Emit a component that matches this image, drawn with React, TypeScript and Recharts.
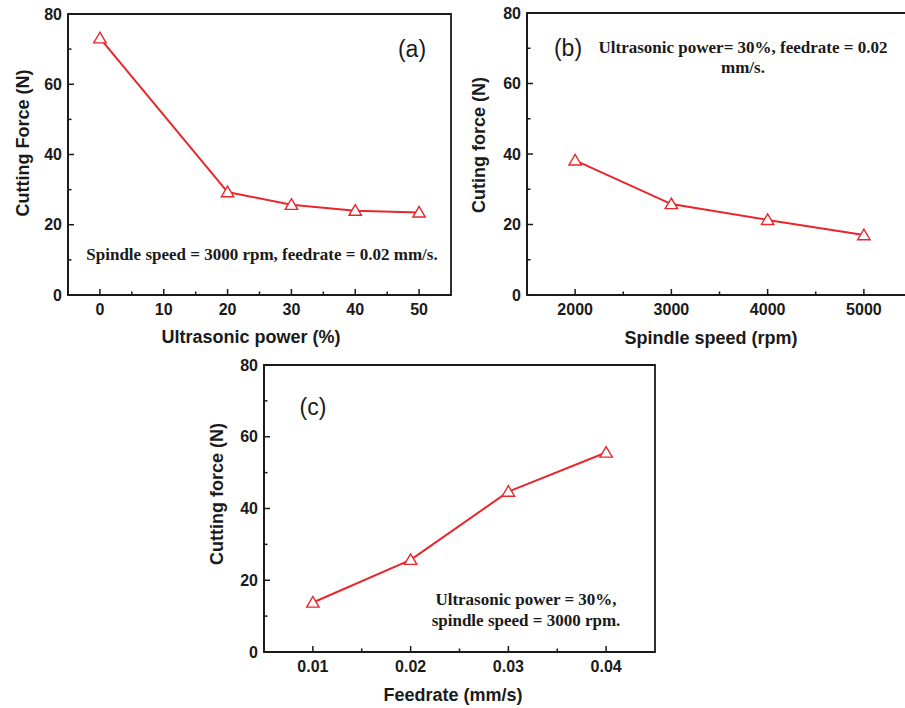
import React from "react";
import { Line, LineChart, ReferenceArea, XAxis, YAxis } from "recharts";

// panel (a): force vs ultrasonic power
const ultrasonicPower = [0, 20, 30, 40, 50];
const forceVsPower = [73.1, 29.3, 25.7, 24.0, 23.5];
// panel (b): force vs spindle speed
const spindleSpeed = [2000, 3000, 4000, 5000];
const forceVsSpeed = [38.2, 25.8, 21.3, 17.0];
// panel (c): force vs feedrate
const feedrate = [0.01, 0.02, 0.03, 0.04];
const forceVsFeed = [13.8, 25.7, 44.7, 55.6];

const forceTicks = [0, 10, 20, 30, 40, 50, 60, 70, 80];
const forceTickLabels = ["0", "", "20", "", "40", "", "60", "", "80"];
const powerTicks = [0, 5, 10, 15, 20, 25, 30, 35, 40, 45, 50];
const powerTickLabels = ["0", "", "10", "", "20", "", "30", "", "40", "", "50"];
const speedTicks = [2000, 2500, 3000, 3500, 4000, 4500, 5000];
const speedTickLabels = ["2000", "", "3000", "", "4000", "", "5000"];
const feedTicks = [0.01, 0.015, 0.02, 0.025, 0.03, 0.035, 0.04];
const feedTickLabels = ["0.01", "", "0.02", "", "0.03", "", "0.04"];

const INK = "#1a1a1a";
const RED = "#e8262b";
const SANS = "'Liberation Sans', Arial, sans-serif";
const SERIF = "'Liberation Serif', 'Times New Roman', serif";
const X_GAP = 9;
const Y_GAP = 6;

const toRows = (xs: number[], ys: number[]) => xs.map((x, i) => ({ x, force: ys[i] }));

function XTick(props: any) {
  const { x, y, index, labels } = props;
  const label = labels[index];
  const axisY = y - X_GAP;
  return (
    <g>
      <line x1={x} y1={axisY} x2={x} y2={axisY - (label ? 6 : 3.5)} stroke={INK} strokeWidth={1.5} />
      {label ? (
        <text x={x} y={y} dy="0.71em" textAnchor="middle" fontFamily={SANS} fontWeight="bold" fontSize={16} fill={INK}>
          {label}
        </text>
      ) : null}
    </g>
  );
}

function YTick(props: any) {
  const { x, y, index, labels } = props;
  const label = labels[index];
  const axisX = x + Y_GAP;
  return (
    <g>
      <line x1={axisX} y1={y} x2={axisX + (label ? 6 : 3.5)} y2={y} stroke={INK} strokeWidth={1.5} />
      {label ? (
        <text x={x} y={y} dy="0.355em" textAnchor="end" fontFamily={SANS} fontWeight="bold" fontSize={16} fill={INK}>
          {label}
        </text>
      ) : null}
    </g>
  );
}

function Triangle(props: any) {
  const { cx, cy } = props;
  if (cx == null || cy == null) return <g />;
  return (
    <polygon
      points={`${cx},${cy - 6} ${cx - 6.2},${cy + 4.6} ${cx + 6.2},${cy + 4.6}`}
      fill="#fff"
      stroke={RED}
      strokeWidth={1.4}
    />
  );
}

type PanelProps = {
  left: number;
  top: number;
  width: number;
  height: number;
  marginTop: number;
  marginRight: number;
  yAxisWidth: number;
  xAxisHeight: number;
  rows: { x: number; force: number }[];
  xDomain: [number, number];
  xTicks: number[];
  xLabels: string[];
};

function Panel(p: PanelProps) {
  const frame = { stroke: INK, strokeWidth: 1.8 };
  return (
    <div style={{ position: "absolute", left: p.left, top: p.top }}>
      <LineChart
        width={p.width}
        height={p.height}
        data={p.rows}
        margin={{ top: p.marginTop, right: p.marginRight, bottom: 0, left: 0 }}
      >
        <XAxis
          dataKey="x"
          type="number"
          domain={p.xDomain}
          ticks={p.xTicks}
          interval={0}
          height={p.xAxisHeight}
          tickSize={0}
          tickMargin={X_GAP}
          axisLine={frame}
          tick={(t: any) => <XTick {...t} labels={p.xLabels} />}
        />
        <YAxis
          type="number"
          domain={[0, 80]}
          ticks={forceTicks}
          interval={0}
          width={p.yAxisWidth}
          tickSize={0}
          tickMargin={Y_GAP}
          axisLine={frame}
          tick={(t: any) => <YTick {...t} labels={forceTickLabels} />}
        />
        <ReferenceArea
          x1={p.xDomain[0]}
          x2={p.xDomain[1]}
          y1={0}
          y2={80}
          fill="none"
          fillOpacity={0}
          stroke={INK}
          strokeWidth={1.8}
          strokeOpacity={1}
        />
        <Line
          type="linear"
          dataKey="force"
          stroke={RED}
          strokeWidth={2}
          dot={(d: any) => <Triangle key={d.index} cx={d.cx} cy={d.cy} />}
          activeDot={false}
          isAnimationActive={false}
        />
      </LineChart>
    </div>
  );
}

function Label(props: { x: number; y: number; children: React.ReactNode; rotate?: boolean; serif?: boolean; size?: number; weight?: string; lineHeight?: number }) {
  const { x, y, rotate, serif, size = 18, weight = "bold", lineHeight = 1 } = props;
  return (
    <div
      style={{
        position: "absolute",
        left: x,
        top: y,
        transform: `translate(-50%, -50%)${rotate ? " rotate(-90deg)" : ""}`,
        fontFamily: serif ? SERIF : SANS,
        fontSize: size,
        fontWeight: weight as any,
        lineHeight: lineHeight > 3 ? `${lineHeight}px` : lineHeight,
        color: INK,
        whiteSpace: "nowrap",
        textAlign: "center",
      }}
    >
      {props.children}
    </div>
  );
}

export default function App() {
  return (
    <div style={{ position: "absolute", left: 0, top: 0, width: 905, height: 708, overflow: "hidden", background: "#fff" }}>
      <Panel
        left={0}
        top={0}
        width={460}
        height={340}
        marginTop={14}
        marginRight={9}
        yAxisWidth={68}
        xAxisHeight={45}
        rows={toRows(ultrasonicPower, forceVsPower)}
        xDomain={[-5, 55]}
        xTicks={powerTicks}
        xLabels={powerTickLabels}
      />
      <Panel
        left={460}
        top={0}
        width={460}
        height={340}
        marginTop={13}
        marginRight={8}
        yAxisWidth={67}
        xAxisHeight={45}
        rows={toRows(spindleSpeed, forceVsSpeed)}
        xDomain={[1500, 5500]}
        xTicks={speedTicks}
        xLabels={speedTickLabels}
      />
      <Panel
        left={200}
        top={350}
        width={465}
        height={350}
        marginTop={15}
        marginRight={10}
        yAxisWidth={64}
        xAxisHeight={48}
        rows={toRows(feedrate, forceVsFeed)}
        xDomain={[0.005, 0.045]}
        xTicks={feedTicks}
        xLabels={feedTickLabels}
      />

      {/* panel (a) text */}
      <Label x={23} y={143} rotate>Cutting Force (N)</Label>
      <Label x={251} y={337}>Ultrasonic power (%)</Label>
      <Label x={412} y={49} size={23} weight="normal">(a)</Label>
      <Label x={262} y={254} serif size={17}>Spindle speed = 3000 rpm, feedrate = 0.02 mm/s.</Label>

      {/* panel (b) text */}
      <Label x={479} y={145} rotate>Cuting force (N)</Label>
      <Label x={711} y={338}>Spindle speed (rpm)</Label>
      <Label x={568} y={48} size={23} weight="normal">(b)</Label>
      <Label x={743} y={58} serif size={17} lineHeight={20}>
        Ultrasonic power= 30%, feedrate = 0.02
        <br />
        mm/s.
      </Label>

      {/* panel (c) text */}
      <Label x={217} y={494} rotate>Cutting force (N)</Label>
      <Label x={453} y={695}>Feedrate (mm/s)</Label>
      <Label x={313} y={407} size={23} weight="normal">(c)</Label>
      <Label x={526} y={610} serif size={17} lineHeight={21}>
        Ultrasonic power = 30%,
        <br />
        spindle speed = 3000 rpm.
      </Label>
    </div>
  );
}
